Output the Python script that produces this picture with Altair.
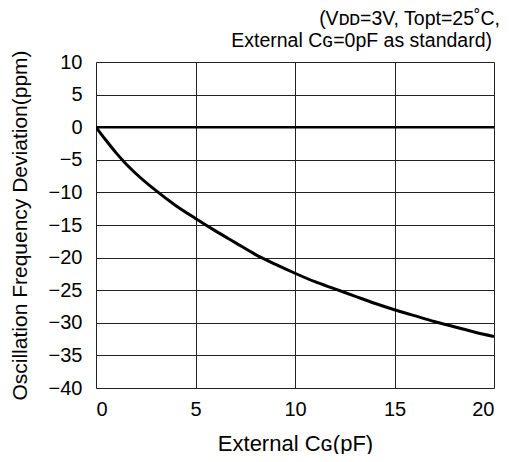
import altair as alt
import pandas as pd

# Data
cg_pf = [0, 0.5, 1, 1.5, 2, 3, 4, 5, 6, 7, 8, 9, 10, 11, 12, 13, 14, 15, 16, 17, 18, 19, 20]
dev_ppm = [0, -2.0, -3.9, -5.6, -7.1, -9.7, -12.0, -14.0, -15.9, -17.7, -19.5, -21.0, -22.4,
           -23.7, -24.8, -25.9, -27.0, -28.0, -28.9, -29.8, -30.6, -31.4, -32.1]
x_ticks = [0, 5, 10, 15, 20]
y_ticks = [10, 5, 0, -5, -10, -15, -20, -25, -30, -35, -40]
note_lines = ["(V\u1d05\u1d05=3V, Topt=25\u02daC,", "External C\u0262=0pF as standard)"]
x_title = "External C\u0262(pF)"
y_title = "Oscillation Frequency Deviation(ppm)"

FONT = "Liberation Sans"
W, H = 398, 326

df = pd.DataFrame({"cg": cg_pf, "dev": dev_ppm})

xs = alt.Scale(domain=[0, 20], nice=False, zero=False)
ys = alt.Scale(domain=[-40, 10], nice=False, zero=False)

x_axis = alt.Axis(
    values=x_ticks, title=x_title, grid=True, gridColor="#222", gridWidth=1,
    ticks=False, tickSize=0, domain=False, labelPadding=11,
    labelFont=FONT, labelFontSize=20, labelColor="black",
    titleFont=FONT, titleFontSize=22, titleFontWeight="normal", titleColor="black",
    titleBaseline="alphabetic", titleY=62)
y_axis = alt.Axis(
    values=y_ticks, title=y_title, grid=True, gridColor="#222", gridWidth=1,
    ticks=False, tickSize=0, domain=False, labelPadding=14,
    labelFont=FONT, labelFontSize=20, labelColor="black",
    titleFont=FONT, titleFontSize=21, titleFontWeight="normal", titleColor="black",
    titleBaseline="alphabetic", titleX=-70, titleY=H / 2)

curve = alt.Chart(df).mark_line(color="black", strokeWidth=3, clip=True,
                                interpolate="monotone").encode(
    x=alt.X("cg:Q", scale=xs, axis=x_axis),
    y=alt.Y("dev:Q", scale=ys, axis=y_axis),
)

zero = alt.Chart(pd.DataFrame({"z": [0]})).mark_rule(color="black", strokeWidth=2.5).encode(
    y=alt.Y("z:Q", scale=ys, axis=y_axis)
)

note1 = alt.Chart(pd.DataFrame({"t": [note_lines[0]]})).mark_text(
    align="right", baseline="alphabetic", font=FONT, fontSize=19.5, color="black"
).encode(text="t:N", x=alt.value(W + 6), y=alt.value(-37))

note2 = alt.Chart(pd.DataFrame({"t": [note_lines[1]]})).mark_text(
    align="right", baseline="alphabetic", font=FONT, fontSize=19.5, color="black"
).encode(text="t:N", x=alt.value(W - 2), y=alt.value(-15))

chart = alt.layer(curve, zero, note1, note2).properties(
    width=W, height=H,
    autosize=alt.AutoSizeParams(type="none"),
    padding={"left": 88, "top": 54, "right": 11, "bottom": 66},
).configure_view(stroke="black", strokeWidth=1).configure(background="white")

chart.save("out.html", embed_options={"renderer": "svg", "actions": False})
